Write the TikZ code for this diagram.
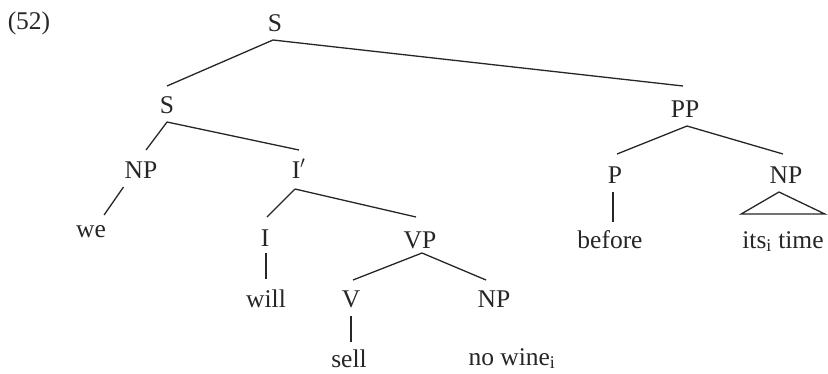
\documentclass[tikz,border=0pt]{standalone}
\usepackage{fontspec}
\setmainfont{Liberation Serif}
\begin{document}
\begin{tikzpicture}[x=1pt,y=-1pt,
  every node/.style={font=\fontsize{25.5}{30}\selectfont, text=black!85, anchor=base, inner sep=0pt},
  cat/.style={text height=19pt, text depth=0pt, outer ysep=9pt},
  word/.style={text height=18pt, text depth=0pt, outer ysep=8pt},
  branch/.style={draw=black!85, line width=1.3pt}]
\useasboundingbox (0,0) rectangle (828,373);
% labels
\node (ex) at (29,29) {(52)};
\node[cat] (S0) at (275,31) {S};
\node[cat] (S1) at (167,113) {S};
\node[cat] (PP) at (685,117) {PP};
\node[cat] (NP1) at (141,178) {NP};
\node[cat] (Ib) at (296,178) {I\rlap{$'$}};
\node[word] (we) at (91,237) {we};
\node[cat] (I) at (265,246) {I};
\node[cat] (VP) at (420,248) {VP};
\node[word] (will) at (266,307) {will};
\node[cat] (V) at (351,307) {V};
\node[cat] (NP2) at (494,307) {NP};
\node[word] (sell) at (349,367) {sell};
\node[word] (nw) at (512,365) {no wine\textsubscript{i}};
\node[cat] (P) at (615,183) {P};
\node[cat] (NP3) at (786,183) {NP};
\node[word] (bef) at (610,248) {before};
\node[word] (its) at (783,248) {its\textsubscript{i} time};
% branches
\draw[branch] ([xshift=-2pt]S0.south) -- ([yshift=-1pt]S1.north);
\draw[branch] ([xshift=-2pt]S0.south) -- ([xshift=-2pt,yshift=3pt]PP.north);
\draw[branch] (S1.south) -- ([xshift=5pt]NP1.north);
\draw[branch] (S1.south) -- ([xshift=3pt]Ib.north);
\draw[branch] ([xshift=-1pt]NP1.south west) -- ([xshift=-2pt,yshift=-4pt]we.north east);
\draw[branch] ([xshift=-1pt,yshift=-2pt]Ib.south) -- ([xshift=2pt,yshift=1pt]I.north);
\draw[branch] ([xshift=-1pt,yshift=-2pt]Ib.south) -- ([xshift=-4pt,yshift=3pt]VP.north);
\draw[branch] ([xshift=1pt,yshift=2pt]I.south) -- ([xshift=1pt,yshift=2pt]I.south |- will.north);
\draw[branch] ([xshift=2pt,yshift=4pt]VP.south) -- ([xshift=2pt,yshift=-1pt]V.north);
\draw[branch] ([xshift=2pt,yshift=4pt]VP.south) -- ([xshift=-8pt,yshift=-1pt]NP2.north);
\draw[branch] (V.south) -- ([yshift=-1pt]V.south |- sell.north);
\draw[branch] ([xshift=2pt]PP.south) -- ([xshift=2pt,yshift=1pt]P.north);
\draw[branch] ([xshift=2pt]PP.south) -- ([xshift=-3pt,yshift=1pt]NP3.north);
\draw[branch] ([xshift=-2pt]P.south) -- ([xshift=-2pt]P.south |- bef.north);
\draw[branch, line join=miter] ([xshift=-7pt]NP3.south) -- ([xshift=-1pt,yshift=8pt]its.north west) -- ([xshift=1pt,yshift=8pt]its.north east) -- cycle;
\end{tikzpicture}
\end{document}
